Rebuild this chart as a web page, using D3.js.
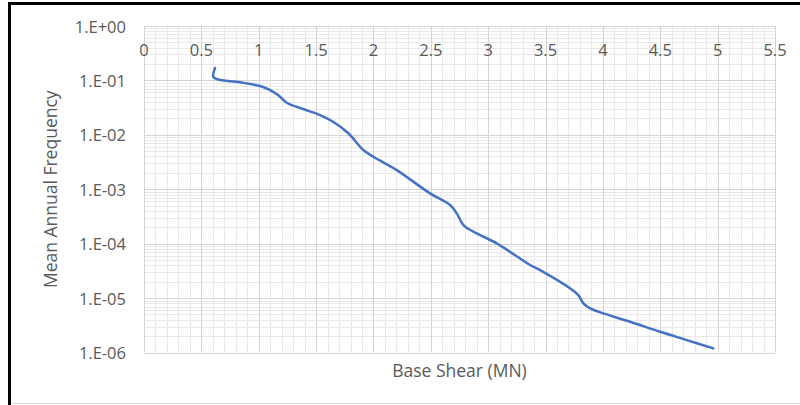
<!DOCTYPE html>
<html>
<head>
<meta charset="utf-8">
<script src="https://cdn.jsdelivr.net/npm/d3@7"></script>
<style>
  html, body { margin: 0; padding: 0; background: #fff; }
  svg { display: block; font-family: "Open Sans", "Noto Sans", sans-serif; }
</style>
</head>
<body>
<svg id="chart" width="800" height="405"></svg>
<script>
// Hazard curve: base shear (MN) vs. mean annual frequency of exceedance
const baseShear = [0.619, 0.604, 0.639, 0.837, 1.011, 1.099, 1.168, 1.244, 1.386, 1.534, 1.648, 1.779,
  1.912, 1.999, 2.203, 2.493, 2.668, 2.726, 2.784, 2.871, 3.075, 3.365, 3.452, 3.714, 3.786, 3.830,
  3.888, 4.004, 4.237, 4.499, 4.731, 4.963];
const meanAnnualFreq = [0.169, 0.117, 0.105, 0.0923, 0.0789, 0.0666, 0.054, 0.0389, 0.0298, 0.0231, 0.0174, 0.0108,
  5.26e-3, 3.96e-3, 2.25e-3, 8.4e-4, 5.13e-4, 3.6e-4, 2.2e-4, 1.66e-4, 1.01e-4, 4.05e-5, 3.27e-5, 1.51e-5, 1.13e-5, 8.0e-6,
  6.47e-6, 5.24e-6, 3.67e-6, 2.40e-6, 1.69e-6, 1.19e-6];
const xTicks = [0, 0.5, 1, 1.5, 2, 2.5, 3, 3.5, 4, 4.5, 5, 5.5];
const xTickLabels = ["0", "0.5", "1", "1.5", "2", "2.5", "3", "3.5", "4", "4.5", "5", "5.5"];
const yTicks = [1, 1e-1, 1e-2, 1e-3, 1e-4, 1e-5, 1e-6];
const yTickLabels = ["1.E+00", "1.E-01", "1.E-02", "1.E-03", "1.E-04", "1.E-05", "1.E-06"];
const xTitle = "Base Shear (MN)";
const yTitle = "Mean Annual Frequency";

const svg = d3.select("#chart");
const plot = { left: 144, right: 775, top: 26, bottom: 352.5 };

const x = d3.scaleLinear().domain([0, 5.5]).range([plot.left, plot.right]);
const y = d3.scaleLog().domain([1e-6, 1]).range([plot.bottom, plot.top]);

// outer frame
svg.append("line").attr("x1", 8).attr("x2", 800).attr("y1", 3.5).attr("y2", 3.5)
  .attr("stroke", "#000").attr("stroke-width", 3);
svg.append("line").attr("x1", 9.5).attr("x2", 9.5).attr("y1", 2).attr("y2", 405)
  .attr("stroke", "#000").attr("stroke-width", 3);
svg.append("line").attr("x1", 11).attr("x2", 800).attr("y1", 403.5).attr("y2", 403.5)
  .attr("stroke", "#d9d9d9").attr("stroke-width", 1);

const grid = svg.append("g");

// minor gridlines
const xMinor = d3.range(0, 56).map(i => i / 10).filter(v => Math.abs(v * 2 - Math.round(v * 2)) > 1e-6);
grid.selectAll("line.xminor").data(xMinor).join("line")
  .attr("x1", d => Math.round(x(d)) + 0.5).attr("x2", d => Math.round(x(d)) + 0.5)
  .attr("y1", plot.top).attr("y2", plot.bottom)
  .attr("stroke", "#e9e9e9").attr("stroke-width", 1);

const yMinor = [];
for (let e = -6; e < 0; e++) for (let m = 2; m <= 9; m++) yMinor.push(m * Math.pow(10, e));
grid.selectAll("line.yminor").data(yMinor).join("line")
  .attr("x1", plot.left).attr("x2", plot.right)
  .attr("y1", d => Math.round(y(d)) + 0.5).attr("y2", d => Math.round(y(d)) + 0.5)
  .attr("stroke", "#e9e9e9").attr("stroke-width", 1);

// major gridlines
grid.selectAll("line.xmajor").data(xTicks).join("line")
  .attr("x1", d => Math.round(x(d)) + 0.5).attr("x2", d => Math.round(x(d)) + 0.5)
  .attr("y1", plot.top).attr("y2", plot.bottom)
  .attr("stroke", "#d4d4d4").attr("stroke-width", 1);
grid.selectAll("line.ymajor").data(yTicks).join("line")
  .attr("x1", plot.left).attr("x2", plot.right)
  .attr("y1", d => Math.round(y(d)) + 0.5).attr("y2", d => Math.round(y(d)) + 0.5)
  .attr("stroke", "#d4d4d4").attr("stroke-width", 1);

// tick labels
svg.append("g").selectAll("text").data(xTicks).join("text")
  .attr("x", d => x(d)).attr("y", 49.5)
  .attr("text-anchor", "middle").attr("dominant-baseline", "central")
  .attr("fill", "#595959").style("font-size", "16.5px")
  .text((d, i) => xTickLabels[i]);

svg.append("g").selectAll("text").data(yTicks).join("text")
  .attr("x", 126).attr("y", d => y(d))
  .attr("text-anchor", "end").attr("dominant-baseline", "central")
  .attr("fill", "#595959").style("font-size", "16.5px")
  .text((d, i) => yTickLabels[i]);

// axis titles
svg.append("text").attr("x", (plot.left + plot.right) / 2).attr("y", 370)
  .attr("text-anchor", "middle").attr("dominant-baseline", "central")
  .attr("fill", "#595959").style("font-size", "17.5px").text(xTitle);
svg.append("text")
  .attr("transform", `translate(50,${(plot.top + plot.bottom) / 2}) rotate(-90)`)
  .attr("text-anchor", "middle").attr("dominant-baseline", "central")
  .attr("fill", "#595959").style("font-size", "17.5px").text(yTitle);

// curve
const pts = baseShear.map((v, i) => [v, meanAnnualFreq[i]]);
svg.append("path").datum(pts)
  .attr("d", d3.line().x(d => x(d[0])).y(d => y(d[1])).curve(d3.curveCatmullRom.alpha(0.5)))
  .attr("fill", "none").attr("stroke", "#4472c4").attr("stroke-width", 2.5)
  .attr("stroke-linecap", "round").attr("stroke-linejoin", "round");
</script>
</body>
</html>
